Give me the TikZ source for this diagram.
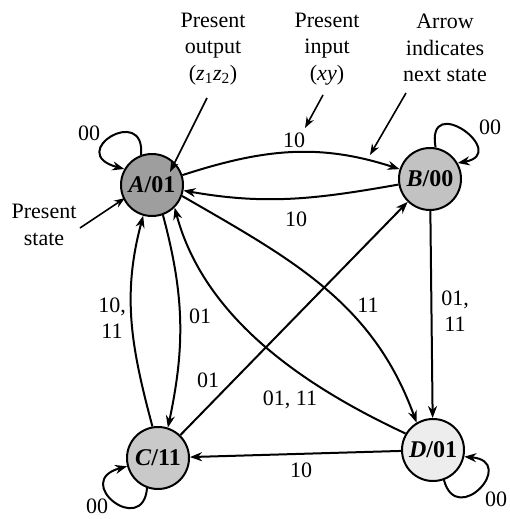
\documentclass[tikz,border=0pt]{standalone}
\usepackage{fontspec}
\setmainfont{Liberation Serif}
\usetikzlibrary{arrows.meta}
\begin{document}
\begin{tikzpicture}[x=1pt,y=1pt,
  state/.style={circle,draw,line width=2pt,minimum size=62pt,inner sep=0pt,
    font=\fontsize{24}{26}\selectfont\bfseries},
  edge/.style={line width=2pt,-{Stealth[length=12pt,width=9pt]}},
  note/.style={line width=1.6pt,-{Stealth[length=11pt,width=8pt]}},
  lbl/.style={font=\fontsize{22}{26}\selectfont,inner sep=0pt,align=center},
  txt/.style={font=\fontsize{22}{26.5}\selectfont,inner sep=0pt,align=center}]
\useasboundingbox (0,0) rectangle (510,-519);

% states
\node[state,fill=black!38] (A) at (152,-185) {\textit{A}/01};
\node[state,fill=black!24] (B) at (430,-179) {\textit{B}/00};
\node[state,fill=black!21] (C) at (158,-458) {\textit{C}/11};
\node[state,fill=black!7]  (D) at (433,-450) {\textit{D}/01};

% self loops
\draw[edge] (A.110) .. controls +(85:52) and +(165:62) .. (A.150);
\draw[edge] (B.80) .. controls +(100:58) and +(10:54) .. (B.30);
\draw[edge] (C.250) .. controls +(265:50) and +(195:58) .. (C.195);
\draw[edge] (D.290) .. controls +(-75:50) and +(-5:54) .. (D.348);
\node[lbl] (lA) at (89,-133) {00};
\node[lbl] (lB) at (490,-127) {00};
\node[lbl] (lC) at (97,-506) {00};
\node[lbl] (lD) at (496,-499) {00};

% transitions
\draw[edge] (A) to[out=18,in=162] (B);
\draw[edge] (B) to[out=190,in=-10] (A);
\draw[edge] (A.290) to[out=-75,in=78] (C.72);
\draw[edge] (C.100) to[out=105,in=255] (A.254);
\draw[edge] (A.340) to[out=-30,in=110] (D.121);
\draw[edge] (D.149) to[out=155,in=-75,looseness=0.9] (A.315);
\draw[edge] (C) -- (B);
\draw[edge] (B) -- (D);
\draw[edge] (D) -- (C);

% transition labels
\node[lbl] (tAB) at (294,-140) {10};
\node[lbl] (tBA) at (296,-219) {10};
\node[lbl] (tAC) at (200,-316) {01};
\node[lbl] (tCA) at (112,-318) {10,\\11};
\node[lbl] (tAD) at (368,-305) {11};
\node[lbl] (tDA) at (290,-400) {01, 11};
\node[lbl] (tCB) at (208,-380) {01};
\node[lbl] (tBD) at (455,-311) {01,\\11};
\node[lbl] (tDC) at (301,-470) {10};

% annotations
\node[txt] (nOut) at (213,-49) {Present\\output\\(\textit{z}\textsubscript{1}\textit{z}\textsubscript{2})};
\node[txt] (nIn) at (327,-49) {Present\\input\\(\textit{xy})};
\node[txt] (nNext) at (445,-48) {Arrow\\indicates\\next state};
\node[txt] (nState) at (44,-225) {Present\\state};

\coordinate (outTail) at (207,-98);
\coordinate (outTip) at (170,-172);
\coordinate (inTail) at (323,-95);
\coordinate (inTip) at (305,-128);
\coordinate (nextTail) at (406,-93);
\coordinate (nextTip) at (370,-155);
\coordinate (stTail) at (80,-228);
\coordinate (stTip) at (125,-198);
\draw[note] (outTail) -- (outTip);
\draw[note] (inTail) -- (inTip);
\draw[note] (nextTail) -- (nextTip);
\draw[note] (stTail) -- (stTip);
\end{tikzpicture}
\end{document}
